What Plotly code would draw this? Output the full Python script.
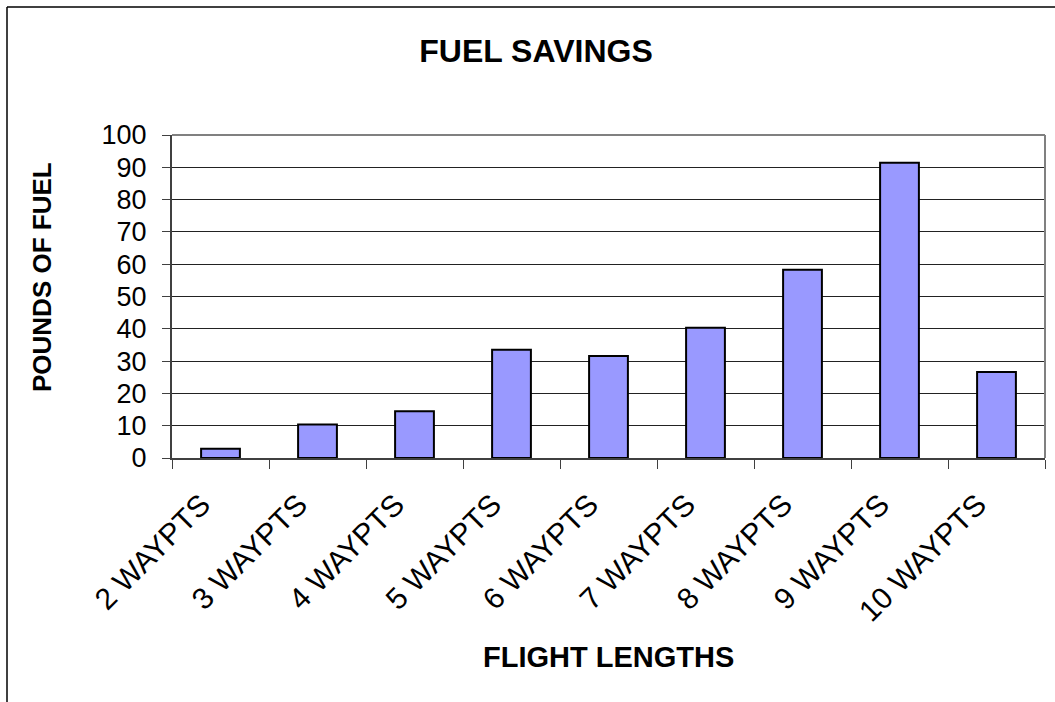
import plotly.graph_objects as go

# Fuel saved per flight length (pounds)
categories = ["2 WAYPTS", "3 WAYPTS", "4 WAYPTS", "5 WAYPTS", "6 WAYPTS",
              "7 WAYPTS", "8 WAYPTS", "9 WAYPTS", "10 WAYPTS"]
fuel_saved = [2.9, 10.4, 14.5, 33.5, 31.6, 40.3, 58.3, 91.4, 26.6]
y_ticks = [0, 10, 20, 30, 40, 50, 60, 70, 80, 90, 100]

W, H = 1055, 702
M = dict(l=172, r=10, t=135, b=244)
pw = W - M["l"] - M["r"]
ph = H - M["t"] - M["b"]

def px_x(x):
    return (x - M["l"]) / pw

def px_y(y):
    return (H - M["b"] - y) / ph

FONT = "Liberation Sans, Arial, sans-serif"

fig = go.Figure(go.Bar(
    x=categories,
    y=fuel_saved,
    width=0.4,
    marker=dict(color="#9999FF", line=dict(color="#000000", width=2)),
))

fig.update_layout(
    width=W, height=H,
    margin=M,
    paper_bgcolor="white",
    plot_bgcolor="white",
    showlegend=False,
    font=dict(family=FONT, color="black"),
    title=dict(text="<b>FUEL SAVINGS</b>", x=px_x(536), xref="paper",
               xanchor="center", y=1 - 51 / H, yanchor="middle",
               font=dict(size=32, family=FONT)),
    xaxis=dict(
        tickangle=-45,
        tickfont=dict(size=30, family=FONT),
        showline=True, linecolor="#404040", linewidth=2,
        ticks="outside", ticklen=9, tickcolor="#404040",
        tickson="boundaries",
        ticklabelshift=-19,
        ticklabelstandoff=15,
        showgrid=False,
        automargin=False,
    ),
    yaxis=dict(
        range=[0, 100],
        tickvals=y_ticks,
        tickfont=dict(size=27, family=FONT),
        showline=True, linecolor="#404040", linewidth=2,
        ticks="outside", ticklen=8, tickcolor="#404040",
        ticklabelstandoff=10,
        showgrid=True, gridcolor="#222222", gridwidth=1,
        zeroline=False,
        automargin=False,
    ),
)

fig.add_annotation(text="<b>FLIGHT LENGTHS</b>", xref="paper", yref="paper",
                   x=0.5, y=px_y(657), xanchor="center", yanchor="middle",
                   showarrow=False, font=dict(size=29, family=FONT))
fig.add_annotation(text="<b>POUNDS OF FUEL</b>", xref="paper", yref="paper",
                   x=px_x(42), y=px_y(277), xanchor="center", yanchor="middle",
                   textangle=-90, showarrow=False, font=dict(size=26, family=FONT))

# Plot-area border (top and right) in grey
fig.add_shape(type="line", xref="paper", yref="paper", x0=0, x1=1, y0=1, y1=1,
              line=dict(color="#808080", width=2))
fig.add_shape(type="line", xref="paper", yref="paper", x0=1, x1=1, y0=0, y1=1,
              line=dict(color="#808080", width=2))

# Outer chart frame (left and top edges)
fig.add_shape(type="line", xref="paper", yref="paper", x0=px_x(7), x1=px_x(7),
              y0=px_y(H + 5), y1=px_y(7), line=dict(color="black", width=1.5))
fig.add_shape(type="line", xref="paper", yref="paper", x0=px_x(7), x1=px_x(W + 5),
              y0=px_y(7), y1=px_y(7), line=dict(color="black", width=1.5))

fig.write_html("out.html")
